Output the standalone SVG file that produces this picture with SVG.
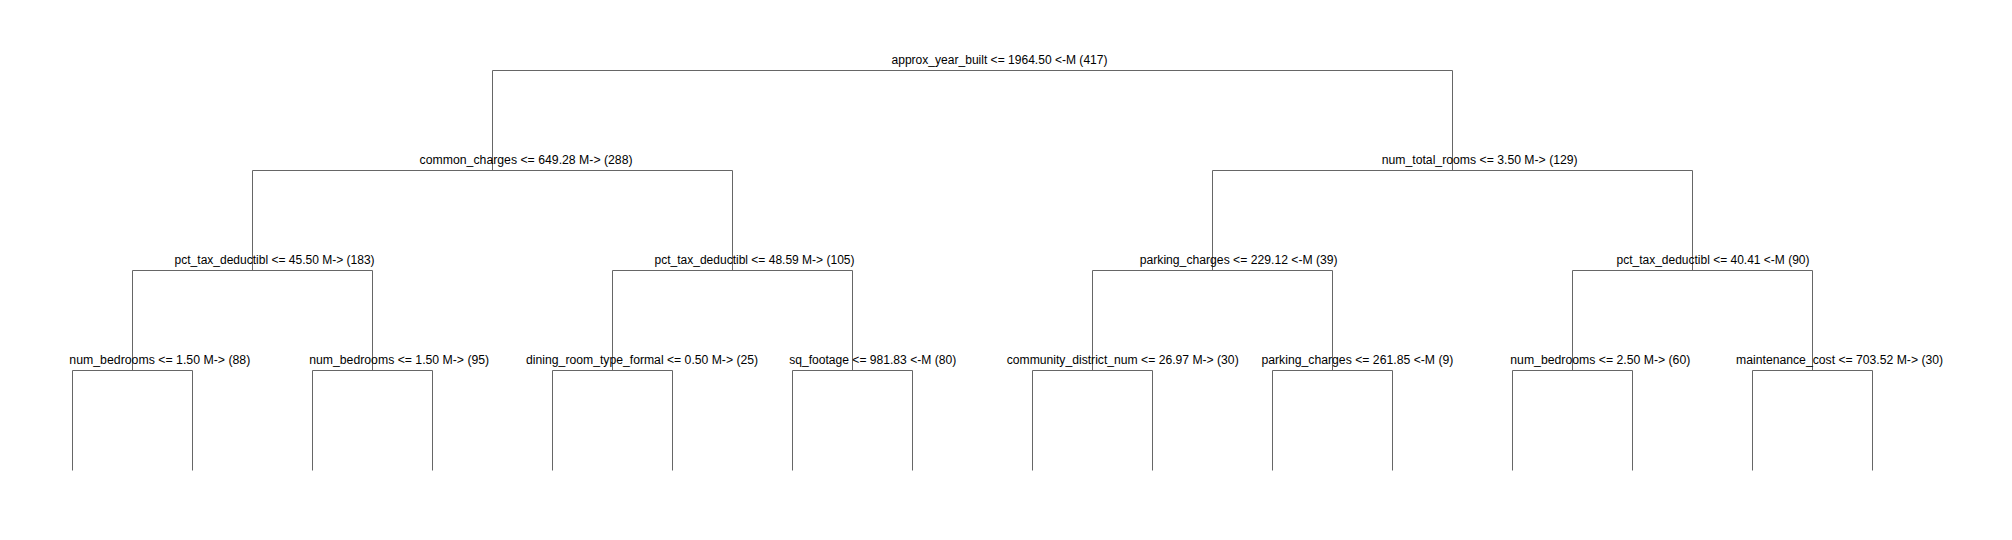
<svg xmlns="http://www.w3.org/2000/svg" width="2012" height="540" viewBox="0 0 2012 540">
<style>
.e{stroke:#666666;stroke-width:1;fill:none}
text{font-family:"Liberation Sans",Arial,sans-serif;font-size:12px;fill:#000000}
</style>
<rect width="2012" height="540" fill="#ffffff"/>
<g id="connectors">
<path class="e" d="M492.5,70.5H1452.5"/>
<path class="e" d="M492.5,70.5V170.5M1452.5,70.5V170.5"/>
<path class="e" d="M252.5,170.5H732.5M1212.5,170.5H1692.5"/>
<path class="e" d="M252.5,170.5V270.5M732.5,170.5V270.5M1212.5,170.5V270.5M1692.5,170.5V270.5"/>
<path class="e" d="M132.5,270.5H372.5M612.5,270.5H852.5M1092.5,270.5H1332.5M1572.5,270.5H1812.5"/>
<path class="e" d="M132.5,270.5V370.5M372.5,270.5V370.5M612.5,270.5V370.5M852.5,270.5V370.5M1092.5,270.5V370.5M1332.5,270.5V370.5M1572.5,270.5V370.5M1812.5,270.5V370.5"/>
<path class="e" d="M72.5,370.5H192.5M312.5,370.5H432.5M552.5,370.5H672.5M792.5,370.5H912.5M1032.5,370.5H1152.5M1272.5,370.5H1392.5M1512.5,370.5H1632.5M1752.5,370.5H1872.5"/>
<path class="e" d="M72.5,370.5V470.5M192.5,370.5V470.5M312.5,370.5V470.5M432.5,370.5V470.5M552.5,370.5V470.5M672.5,370.5V470.5M792.5,370.5V470.5M912.5,370.5V470.5M1032.5,370.5V470.5M1152.5,370.5V470.5M1272.5,370.5V470.5M1392.5,370.5V470.5M1512.5,370.5V470.5M1632.5,370.5V470.5M1752.5,370.5V470.5M1872.5,370.5V470.5"/>
</g>
<g id="n0"><text x="891.5" y="64" textLength="216" lengthAdjust="spacingAndGlyphs">approx_year_built &lt;= 1964.50 &lt;-M (417)</text></g>
<g id="n1"><text x="419.6" y="164" textLength="213" lengthAdjust="spacingAndGlyphs">common_charges &lt;= 649.28 M-&gt; (288)</text></g>
<g id="n2"><text x="1381.7" y="164" textLength="196" lengthAdjust="spacingAndGlyphs">num_total_rooms &lt;= 3.50 M-&gt; (129)</text></g>
<g id="n3"><text x="174.6" y="264" textLength="200" lengthAdjust="spacingAndGlyphs">pct_tax_deductibl &lt;= 45.50 M-&gt; (183)</text></g>
<g id="n4"><text x="654.5" y="264" textLength="200" lengthAdjust="spacingAndGlyphs">pct_tax_deductibl &lt;= 48.59 M-&gt; (105)</text></g>
<g id="n5"><text x="1139.7" y="264" textLength="198" lengthAdjust="spacingAndGlyphs">parking_charges &lt;= 229.12 &lt;-M (39)</text></g>
<g id="n6"><text x="1616.5" y="264" textLength="193" lengthAdjust="spacingAndGlyphs">pct_tax_deductibl &lt;= 40.41 &lt;-M (90)</text></g>
<g id="n7"><text x="69.3" y="364" textLength="181" lengthAdjust="spacingAndGlyphs">num_bedrooms &lt;= 1.50 M-&gt; (88)</text></g>
<g id="n8"><text x="309.2" y="364" textLength="180" lengthAdjust="spacingAndGlyphs">num_bedrooms &lt;= 1.50 M-&gt; (95)</text></g>
<g id="n9"><text x="526.1" y="364" textLength="232" lengthAdjust="spacingAndGlyphs">dining_room_type_formal &lt;= 0.50 M-&gt; (25)</text></g>
<g id="n10"><text x="789.2" y="364" textLength="167" lengthAdjust="spacingAndGlyphs">sq_footage &lt;= 981.83 &lt;-M (80)</text></g>
<g id="n11"><text x="1006.7" y="364" textLength="232" lengthAdjust="spacingAndGlyphs">community_district_num &lt;= 26.97 M-&gt; (30)</text></g>
<g id="n12"><text x="1261.4" y="364" textLength="192" lengthAdjust="spacingAndGlyphs">parking_charges &lt;= 261.85 &lt;-M (9)</text></g>
<g id="n13"><text x="1510.3" y="364" textLength="180" lengthAdjust="spacingAndGlyphs">num_bedrooms &lt;= 2.50 M-&gt; (60)</text></g>
<g id="n14"><text x="1736.1" y="364" textLength="207" lengthAdjust="spacingAndGlyphs">maintenance_cost &lt;= 703.52 M-&gt; (30)</text></g>
</svg>
